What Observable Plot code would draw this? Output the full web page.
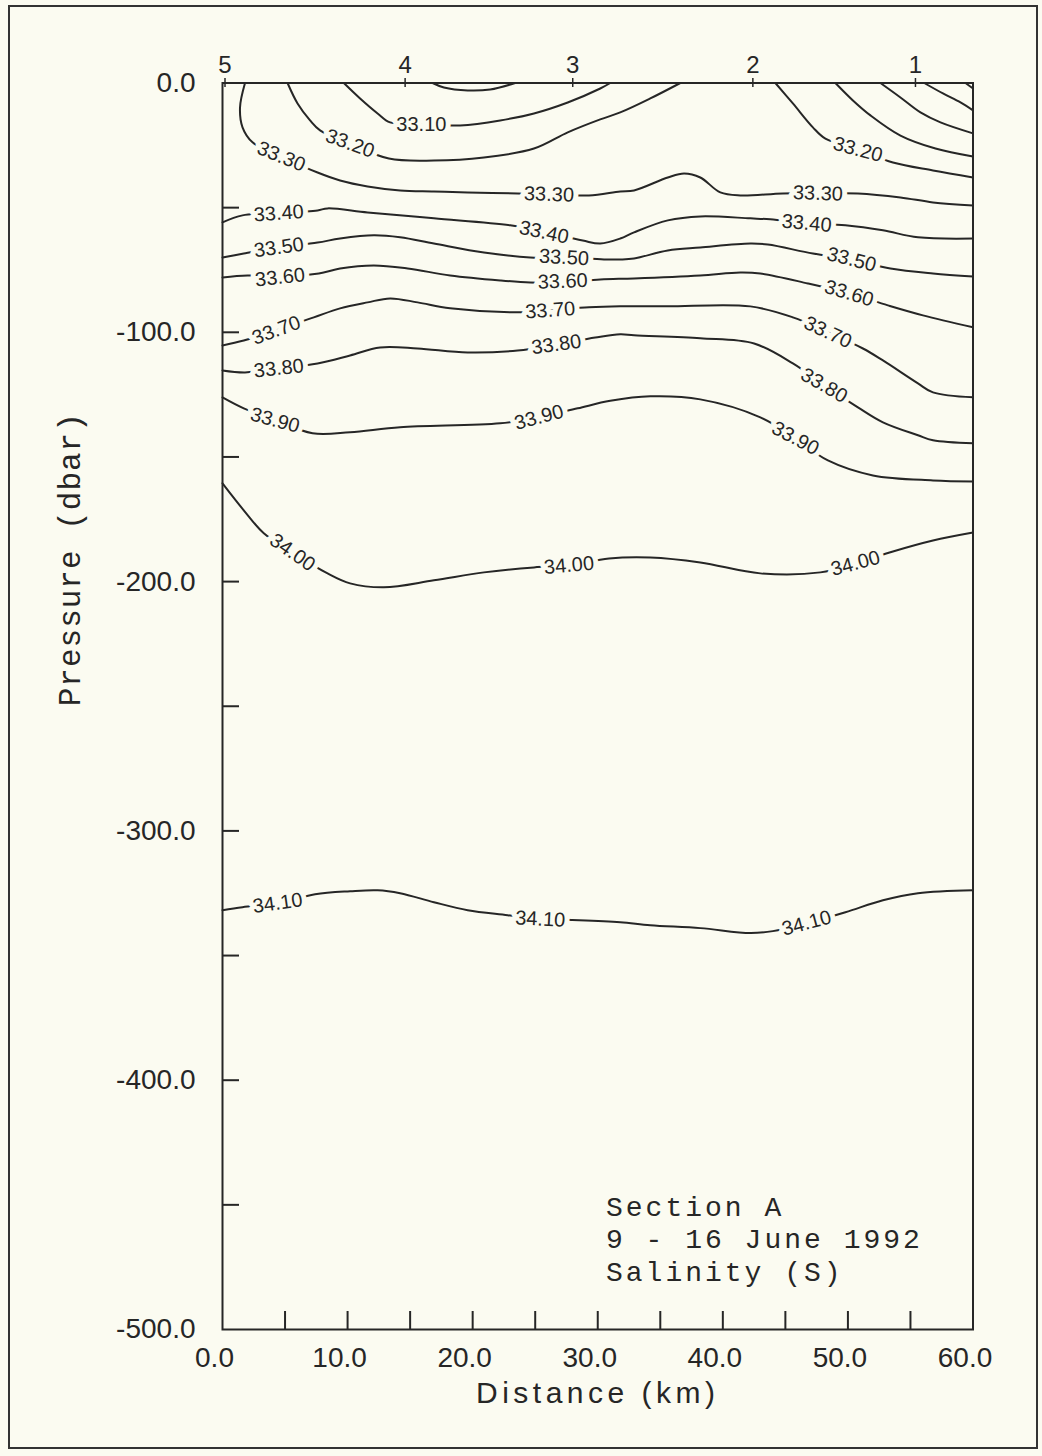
<!DOCTYPE html>
<html>
<head>
<meta charset="utf-8">
<script src="https://cdn.jsdelivr.net/npm/d3@7"></script>
<script src="https://cdn.jsdelivr.net/npm/@observablehq/plot@0.6"></script>
<style>
  html, body { margin: 0; padding: 0; background: #fbfbf1; }
  #page { position: relative; width: 1042px; height: 1456px; overflow: hidden; }
  #border { position: absolute; left: 8px; top: 5px; width: 1030px; height: 1444px; border: 2px solid #333; box-sizing: border-box; pointer-events: none; }
</style>
</head>
<body>
<div id="page"><div id="border"></div></div>
<script>
// ---------- data (distance km, pressure dbar) ----------
const xTicksMajor = [0, 10, 20, 30, 40, 50, 60];
const xTicksMinor = [5, 10, 15, 20, 25, 30, 35, 40, 45, 50, 55];
const yTicksMajor = [0, -100, -200, -300, -400, -500];
const yTicksMinor = [-50, -100, -150, -200, -250, -300, -350, -400, -450];
const stationNames = ["5", "4", "3", "2", "1"];
const stationKm = [0.2, 14.6, 28.0, 42.4, 55.4];

// contour lines (unlabelled surface ones included)
const s3300a = [[16.8,0],[17.7,-1.8],[19.6,-3.0],[21.4,-2.6],[23.4,0]];
const s3310a = [[9.7,0],[11.0,-6.2],[12.4,-12.2],[13.4,-15.8],[15.9,-16.6],[19.0,-17.0],[22.2,-15.0],[24.9,-12.2],[27.6,-7.8],[30.2,-2.2],[31.0,0]];
const s3320a = [[5.2,0],[6.0,-8.2],[7.0,-15.0],[7.8,-19.0],[10.2,-24.3],[13.3,-30.3],[16.9,-31.1],[20.9,-29.9],[24.9,-26.3],[27.6,-19.8],[30.2,-14.6],[31.8,-11.8],[34.2,-6.2],[36.6,0]];
const s3320b = [[44.2,0],[45.6,-8.2],[47.2,-17.8],[48.2,-22.3],[50.8,-26.7],[53.6,-31.9],[56.8,-35.1],[60,-37.9]];
const s3310b = [[49.0,0],[50.4,-7.0],[51.8,-13.0],[54.2,-21.1],[57.0,-26.3],[60,-29.5]];
const s3300b = [[52.6,0],[54.2,-5.8],[55.8,-11.8],[57.4,-15.8],[60,-20.2]];
const s3290 = [[56.1,0],[57.6,-4.2],[59.0,-7.8],[60,-11.0]];
const s3280 = [[59.4,0],[60,-2.2]];
const s3330 = [[1.8,0],[1.4,-9.8],[1.6,-17.8],[2.4,-23.8],[4.7,-29.5],[7.6,-35.9],[9.4,-39.1],[11.6,-41.5],[14.2,-43.1],[16.9,-43.5],[19.6,-43.9],[23.6,-44.3],[26.1,-44.7],[29.3,-45.1],[31.8,-43.5],[32.9,-43.1],[35.6,-37.9],[36.9,-36.3],[38.2,-37.9],[39.8,-43.9],[41.4,-45.1],[44.8,-44.3],[47.6,-44.3],[50.8,-44.3],[54.2,-45.9],[56.8,-47.9],[60,-49.1]];
const s3340 = [[0,-55.9],[1.6,-53.1],[4.5,-52.3],[7.6,-51.1],[8.4,-50.3],[11.6,-51.9],[16.9,-54.3],[23.0,-57.1],[25.7,-59.9],[28.8,-63.2],[30.2,-64.4],[31.8,-62.4],[32.9,-59.9],[35.6,-55.1],[38.2,-53.5],[42.2,-54.3],[43.8,-54.7],[46.7,-56.3],[49.8,-57.1],[52.8,-59.1],[55.6,-61.9],[60,-62.4]];
const s3350 = [[0,-70.0],[1.7,-68.4],[4.5,-66.0],[7.6,-64.0],[9.4,-62.4],[12.1,-61.1],[14.2,-61.9],[16.9,-64.4],[20.9,-68.0],[24.6,-70.0],[27.3,-70.0],[30.5,-70.8],[31.8,-70.8],[32.9,-70.4],[35.6,-67.2],[38.2,-66.0],[42.2,-64.4],[43.6,-64.8],[47.2,-68.4],[50.3,-70.8],[53.4,-74.4],[56.8,-76.4],[60,-77.6]];
const s3360 = [[0,-78.0],[2.0,-77.2],[4.6,-77.6],[7.7,-76.4],[9.4,-74.4],[12.1,-73.2],[14.8,-74.4],[18.2,-77.2],[22.2,-79.2],[24.6,-80.0],[27.2,-80.0],[30.2,-78.8],[32.9,-78.4],[38.2,-77.2],[41.4,-76.0],[43.0,-76.4],[46.8,-80.4],[50.1,-84.4],[53.2,-89.2],[56.0,-93.2],[60,-98.0]];
const s3370 = [[0,-105.3],[1.7,-103.3],[4.3,-99.2],[7.3,-94.0],[9.4,-90.4],[11.6,-88.0],[13.4,-86.4],[15.6,-88.0],[18.2,-90.4],[23.6,-92.0],[26.2,-91.2],[29.3,-90.0],[31.8,-89.6],[35.6,-89.6],[42.2,-89.6],[45.6,-94.0],[48.4,-100.0],[51.2,-106.5],[52.8,-111.3],[55.6,-120.5],[56.8,-124.1],[60,-126.1]];
const s3380 = [[0,-115.3],[1.8,-116.1],[4.5,-114.5],[7.6,-112.5],[10.2,-109.3],[12.6,-106.1],[15.6,-106.5],[19.6,-108.1],[23.6,-107.3],[26.7,-104.9],[29.8,-102.1],[31.8,-100.8],[32.9,-101.2],[38.2,-102.4],[42.5,-104.5],[45.6,-112.5],[48.1,-121.3],[50.8,-130.1],[52.8,-136.1],[55.6,-141.3],[56.8,-143.3],[60,-144.5]];
const s3390 = [[0,-126.1],[1.7,-130.5],[4.2,-135.3],[7.2,-140.5],[10.2,-140.1],[14.2,-138.1],[22.2,-136.5],[25.3,-134.1],[28.4,-130.5],[31.0,-127.5],[34.2,-125.7],[38.2,-126.9],[43.0,-134.1],[45.8,-142.5],[48.4,-151.4],[52.0,-157.4],[56.8,-159.4],[60,-159.8]];
const s3400 = [[0,-160.6],[1.7,-171.4],[3.3,-180.6],[5.6,-188.3],[8.4,-196.7],[10.2,-200.7],[12.9,-202.3],[16.9,-199.5],[20.9,-196.3],[24.9,-194.3],[27.7,-193.5],[30.9,-190.7],[34.2,-190.3],[38.2,-192.3],[43.0,-196.7],[47.8,-196.3],[50.6,-192.7],[53.6,-187.9],[56.8,-183.5],[60,-180.3]];
const s3410 = [[0,-331.8],[1.6,-330.6],[4.4,-329.0],[7.4,-325.4],[10.2,-324.2],[12.4,-323.8],[14.2,-325.0],[16.9,-328.6],[19.6,-331.8],[22.8,-333.8],[25.4,-335.4],[28.5,-335.8],[31.8,-336.6],[34.2,-337.8],[38.2,-339.0],[42.2,-341.0],[44.0,-340.2],[46.7,-337.0],[49.8,-332.6],[52.8,-327.8],[55.6,-325.0],[60,-323.8]];

// contour labels
const labelText  = ["33.30","33.20","33.10","33.40","33.50","33.60","33.70","33.80","33.90","34.00","34.10",
                    "33.30","33.40","33.50","33.60","33.70","33.80","33.90","34.00","34.10",
                    "33.20","33.30","33.40","33.50","33.60","33.70","33.80","33.90","34.00","34.10"];
const labelKm    = [4.7,10.2,15.9,4.5,4.5,4.6,4.3,4.5,4.2,5.6,4.4,
                    26.1,25.7,27.3,27.2,26.2,26.7,25.3,27.7,25.4,
                    50.8,47.6,46.7,50.3,50.1,48.4,48.1,45.8,50.6,46.7];
const labelDbar  = [-29.5,-24.3,-16.6,-52.3,-66.0,-78.0,-99.2,-114.5,-135.3,-188.3,-329.0,
                    -44.7,-59.9,-70.0,-79.6,-91.2,-104.9,-134.1,-193.5,-335.4,
                    -26.7,-44.3,-56.3,-70.8,-84.4,-100.0,-121.3,-142.5,-192.7,-337.0];
const labelAngle = [22,20,0,-4,-8,-6,-20,-6,15,35,-8,
                    2,12,3,-2,-4,-8,-15,-5,3,
                    15,2,5,14,17,25,30,28,-15,-15];

const titleLines = ["Section A", "9 - 16 June 1992", "Salinity (S)"];
const xLabel = "Distance (km)";
const yLabel = "Pressure (dbar)";

// ---------- drawing ----------
const ink = "#262626";
const paper = "#fbfbf1";
const W = 1042, H = 1456;
const mL = 222, mR = 69.5, mT = 82.5, mB = 127;
const plotW = W - mL - mR, plotH = H - mT - mB;

const contours = [s3300a, s3310a, s3320a, s3320b, s3310b, s3300b, s3290, s3280,
                  s3330, s3340, s3350, s3360, s3370, s3380, s3390, s3400, s3410];
const labels = labelText.map((t, i) => ({t, x: labelKm[i], y: labelDbar[i], r: labelAngle[i]}));
const stations = stationNames.map((n, i) => ({n, x: stationKm[i]}));
const mono = "Liberation Mono, DejaVu Sans Mono, monospace";
const sans = "Liberation Sans, Arial, sans-serif";

const chart = Plot.plot({
  width: W, height: H,
  marginLeft: mL, marginRight: mR, marginTop: mT, marginBottom: mB,
  x: {domain: [0, 60], axis: null},
  y: {domain: [-500, 0], axis: null},
  style: {background: "transparent", fontFamily: sans, color: ink, overflow: "visible"},
  marks: [
    ...contours.map(c => Plot.line(c, {x: d => d[0], y: d => d[1], curve: "catmull-rom", stroke: ink, strokeWidth: 2})),
    Plot.text(labels, {x: "x", y: "y", text: "t", rotate: "r", fontSize: 20, fill: ink,
      stroke: paper, strokeWidth: 10, paintOrder: "stroke", fontFamily: sans}),
    // axis ticks (inward)
    Plot.tickY(yTicksMinor, {y: d => d, stroke: ink, strokeWidth: 2, insetRight: plotW - 17}),
    Plot.tickX(xTicksMinor, {x: d => d, stroke: ink, strokeWidth: 2, insetTop: plotH - 18}),
    Plot.tickX(stations, {x: "x", stroke: ink, strokeWidth: 1.5, insetBottom: plotH - 9, dy: -4.5}),
    Plot.frame({stroke: ink, strokeWidth: 2}),
    // tick labels
    Plot.text(yTicksMajor, {y: d => d, text: d => d.toFixed(1), frameAnchor: "left", textAnchor: "end",
      dx: -27, fontSize: 28, fill: ink, lineAnchor: "middle"}),
    Plot.text(xTicksMajor, {x: d => d, text: d => d.toFixed(1), frameAnchor: "bottom", lineAnchor: "top",
      dy: 18, dx: -8, fontSize: 28, fill: ink}),
    Plot.text(stations, {x: "x", text: "n", frameAnchor: "top", lineAnchor: "bottom", dy: -10.5, fontSize: 24, fill: ink}),
    // axis titles
    Plot.text([xLabel], {text: d => d, frameAnchor: "bottom", lineAnchor: "middle", dy: 64,
      fontSize: 30, fill: ink, fontFamily: sans}),
    Plot.text([yLabel], {text: d => d, frameAnchor: "left", lineAnchor: "middle", rotate: -90, dx: -152,
      fontSize: 31, fill: ink, fontFamily: mono}),
    // annotation
    Plot.text([titleLines.join("\n")], {text: d => d, frameAnchor: "bottom-right", textAnchor: "start",
      lineAnchor: "bottom", dx: -367, dy: -49, fontSize: 28, lineHeight: 1.15, fill: ink,
      fontFamily: mono})
  ]
});
document.getElementById("page").appendChild(chart);
chart.style.position = "absolute";
chart.style.left = "0px";
chart.style.top = "0px";
// widen spacing of the titles (Plot 0.6 text has no letterSpacing option)
const byText = {[xLabel]: "4.5px", [yLabel]: "1px"};
chart.querySelectorAll("text").forEach(el => {
  const t = el.textContent;
  if (byText[t]) el.setAttribute("letter-spacing", byText[t]);
  if (t.startsWith(titleLines[0])) el.setAttribute("letter-spacing", "3px");
});
</script>
</body>
</html>
